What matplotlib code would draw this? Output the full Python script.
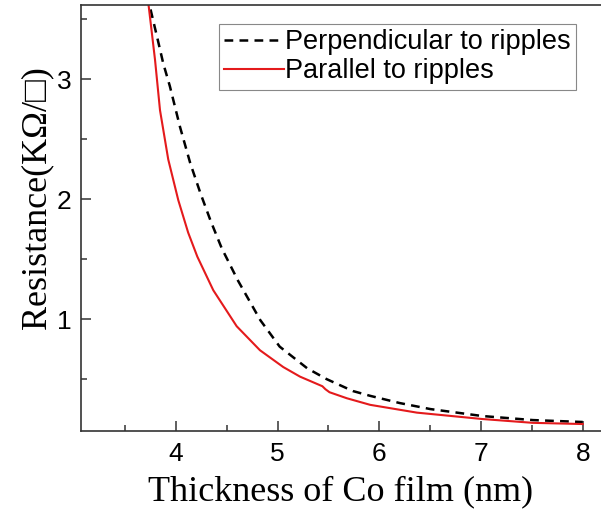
import numpy as np
import matplotlib
matplotlib.use('Agg')
import matplotlib.pyplot as plt
from matplotlib.ticker import MultipleLocator

# values
perp_x = [3.75, 3.82, 3.875, 3.94, 4.04, 4.14, 4.24, 4.34, 4.45, 4.61, 4.83,
          5.02, 5.29, 5.48, 5.74, 5.91, 6.20, 6.50, 7.01, 7.51, 8.0]
perp_y = [3.58, 3.33, 3.13, 2.94, 2.60, 2.30, 2.05, 1.82, 1.59, 1.32, 0.99,
          0.77, 0.59, 0.50, 0.40, 0.36, 0.30, 0.25, 0.192, 0.158, 0.142]

para_x = [3.73, 3.794, 3.843, 3.924, 4.023, 4.12, 4.21, 4.367, 4.597, 4.826,
          5.055, 5.22, 5.44, 5.47, 5.51, 5.68, 5.91, 6.37, 7.01, 7.51, 8.0]
para_y = [3.62, 3.16, 2.74, 2.33, 1.99, 1.72, 1.52, 1.24, 0.94, 0.74,
          0.60, 0.52, 0.44, 0.415, 0.39, 0.34, 0.285, 0.22, 0.167, 0.135, 0.125]

labels = ['Perpendicular to ripples', 'Parallel to ripples']

fig = plt.figure(figsize=(6.01, 5.19), dpi=100)
ax = fig.add_axes([81/601, 88/519, 520/601, 426/519])

ax.plot(perp_x, perp_y, color='black', lw=1.8, linestyle=(0, (3.5, 2.5)), label=labels[0])
ax.plot(para_x, para_y, color='#e41a1c', lw=1.5, label=labels[1])

ax.set_xlim(3.066, 8.18)
ax.set_ylim(0.067, 3.617)

ax.xaxis.set_major_locator(MultipleLocator(1))
ax.xaxis.set_minor_locator(MultipleLocator(0.5))
ax.yaxis.set_major_locator(MultipleLocator(1))
ax.yaxis.set_minor_locator(MultipleLocator(0.5))

spine_c = '#333333'
for s in ['left', 'bottom', 'top']:
    ax.spines[s].set_color(spine_c)
    ax.spines[s].set_linewidth(1.2)
ax.spines['right'].set_visible(False)

ax.tick_params(which='both', direction='in', top=False, right=False, color=spine_c, width=1.1)
ax.tick_params(which='major', length=7, labelsize=19)
ax.tick_params(axis='x', which='major', pad=8)
ax.tick_params(axis='y', which='major', pad=7)
ax.tick_params(which='minor', length=4)
for lab in ax.get_xticklabels() + ax.get_yticklabels():
    lab.set_fontfamily('Liberation Sans')

ax.set_xlabel('Thickness of Co film (nm)', fontsize=26, family='Liberation Serif')
ax.xaxis.set_label_coords(0.5, -0.105)
ax.set_ylabel('Resistance(K\u03a9/\u25a1)', fontsize=26, family=['Liberation Serif', 'DejaVu Sans'])
ax.yaxis.set_label_coords(-0.054, (431-198)/426)

leg = ax.legend(loc='upper right', bbox_to_anchor=((576-81)/520, 1-(24-5)/426),
                borderaxespad=0, fancybox=False, edgecolor='#888888', framealpha=1,
                prop={'family': 'Liberation Sans', 'size': 19.5}, handlelength=2.2,
                handletextpad=0.05, borderpad=0.2, labelspacing=0.1)
leg.get_frame().set_linewidth(0.8)

fig.savefig('out.png', dpi=100)
